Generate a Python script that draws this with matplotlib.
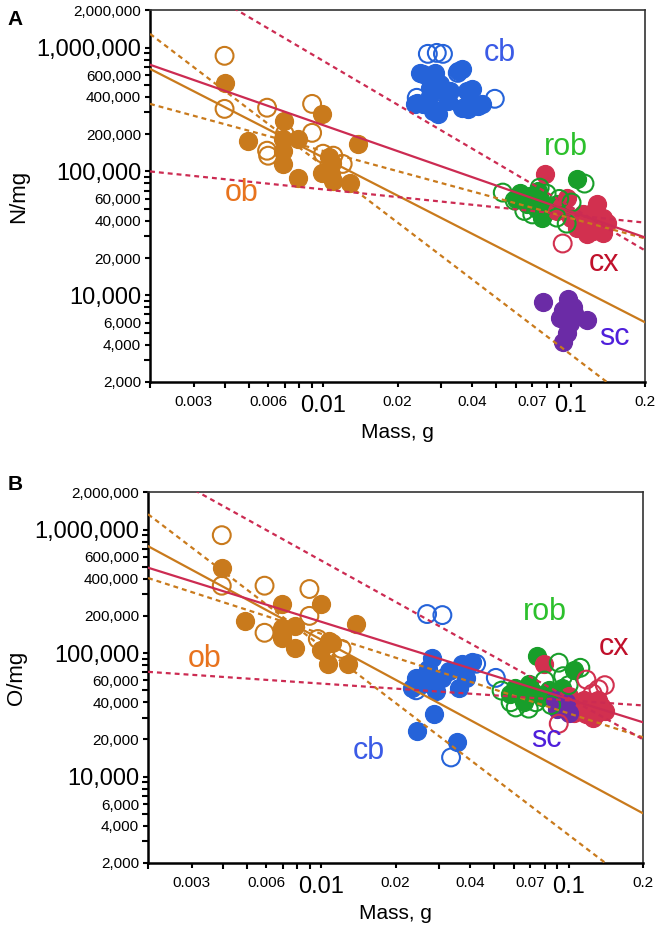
import numpy as np
import matplotlib
matplotlib.use("Agg")
import matplotlib.pyplot as plt
from matplotlib.ticker import FixedLocator, FixedFormatter

plt.rcParams["font.family"] = ["Liberation Sans", "DejaVu Sans"]

# ---------------- data, panel A (N/mg) ----------------
ob_a_fill_x = [0.0040, 0.00499, 0.00697, 0.0069, 0.00793, 0.0069, 0.0069, 0.0079, 0.0099, 0.0099,
               0.0109, 0.011, 0.0129, 0.0138, 0.0108, 0.0106]
ob_a_fill_y = [520000, 177000, 256000, 184000, 184000, 115000, 147000, 89000, 292000, 97000,
               117000, 84000, 80000, 167000, 96000, 130000]
ob_a_open_x = [0.0040, 0.0040, 0.00594, 0.00903, 0.00594, 0.0060, 0.00903, 0.0070, 0.0100, 0.011, 0.012]
ob_a_open_y = [858000, 320000, 327000, 351000, 147000, 134000, 205000, 200000, 139000, 134000, 115000]

cb_a_fill_x = [0.0246, 0.0283, 0.0363, 0.0239, 0.0288, 0.0384, 0.0438, 0.0399, 0.0310, 0.0270,
               0.0253, 0.0350, 0.0253, 0.0278, 0.0291, 0.0319, 0.0381, 0.0392, 0.0422, 0.0363,
               0.0296, 0.0325, 0.0270, 0.0235]
cb_a_fill_y = [625000, 625000, 673000, 358000, 309000, 321000, 352000, 465000, 448000, 474000,
               614000, 649000, 352000, 309000, 292000, 372000, 448000, 372000, 339000, 327000,
               510000, 448000, 408000, 352000]
cb_a_open_x = [0.0265, 0.0288, 0.0305, 0.0494, 0.0239, 0.0350]
cb_a_open_y = [890000, 906000, 890000, 386000, 393000, 625000]

rob_a_fill_x = [0.0622, 0.0684, 0.0736, 0.0665, 0.0729, 0.0800, 0.0879, 0.0764, 0.1057, 0.0703,
                0.060, 0.075, 0.085]
rob_a_fill_y = [67500, 63800, 70000, 55000, 50100, 48300, 55000, 42400, 87600, 58200,
                60000, 60000, 50000]
rob_a_open_x = [0.0532, 0.1138, 0.0594, 0.0800, 0.0964, 0.1009, 0.0879, 0.0750, 0.065, 0.090, 0.070]
rob_a_open_y = [67500, 79800, 58200, 66200, 37900, 56100, 42400, 74000, 48000, 60000, 45000]

cx_a_fill_x = [0.0786, 0.0964, 0.0879, 0.1193, 0.1284, 0.1227, 0.1346, 0.1117, 0.1057, 0.1309,
               0.1161, 0.140, 0.125, 0.110, 0.135, 0.120, 0.092, 0.100]
cx_a_fill_y = [96000, 61500, 48300, 40100, 55000, 33300, 42400, 45700, 35200, 35200,
               31500, 38000, 48000, 37000, 32000, 45000, 53000, 42000]
cx_a_open_x = [0.0929]
cx_a_open_y = [26200]

sc_a_x = [0.0771, 0.0972, 0.0929, 0.1030, 0.1161, 0.0990, 0.0964, 0.0929, 0.0903, 0.1019]
sc_a_y = [8750, 9400, 7550, 7140, 6270, 5930, 4930, 4170, 6500, 7980]

# ---------------- data, panel B (O/mg) ----------------
ob_b_fill_x = [0.00397, 0.00491, 0.00692, 0.00692, 0.00692, 0.00781, 0.00781, 0.0100, 0.0108,
               0.0111, 0.0100, 0.0107, 0.0128, 0.0139, 0.00692]
ob_b_fill_y = [487000, 182000, 249000, 160000, 133000, 166000, 110000, 249000, 126000,
               120000, 105000, 81800, 82000, 173000, 140000]
ob_b_open_x = [0.00397, 0.00397, 0.00591, 0.00591, 0.00897, 0.00897, 0.0097, 0.0121]
ob_b_open_y = [900000, 351000, 351000, 146000, 330000, 200000, 130000, 108000]

cb_b_fill_x = [0.0281, 0.0242, 0.0273, 0.0309, 0.0371, 0.0407, 0.0385, 0.0361, 0.0292, 0.0233,
               0.0256, 0.0244, 0.0286, 0.0354, 0.033, 0.027]
cb_b_fill_y = [92000, 63000, 59800, 63000, 82200, 84000, 63000, 52000, 49700, 52000,
               56000, 23600, 32400, 18900, 72000, 75000]
cb_b_open_x = [0.0268, 0.0309, 0.0508, 0.0423, 0.0242, 0.0335, 0.039]
cb_b_open_y = [207000, 203000, 63000, 82000, 50000, 14300, 78000]

rob_b_fill_x = [0.0743, 0.1047, 0.061, 0.069, 0.078, 0.0938, 0.0647, 0.058, 0.072, 0.083, 0.066, 0.088]
rob_b_fill_y = [95500, 72300, 52000, 56000, 44000, 52000, 44000, 47000, 48000, 50000, 40000, 45000]
rob_b_open_x = [0.0912, 0.1115, 0.0536, 0.0736, 0.0583, 0.0611, 0.069, 0.080, 0.095, 0.100, 0.085]
rob_b_open_y = [83600, 76000, 49700, 40000, 40000, 36300, 35500, 60000, 65000, 55000, 38000]

cx_b_fill_x = [0.0794, 0.126, 0.115, 0.120, 0.130, 0.135, 0.125, 0.118, 0.140, 0.110, 0.100,
               0.095, 0.132, 0.105]
cx_b_fill_y = [82000, 40000, 42000, 35000, 33000, 37000, 30000, 32000, 34000, 38000, 45000,
               40000, 42000, 33000]
cx_b_open_x = [0.118, 0.132, 0.0912, 0.125, 0.140]
cx_b_open_y = [61000, 51000, 26800, 47000, 55000]

sc_b_x = [0.088, 0.092, 0.095, 0.098, 0.090, 0.100]
sc_b_y = [42000, 38000, 36000, 40000, 35000, 33000]

# fitted lines: value at mass 0.002 and at mass 0.2
line_x = [0.002, 0.2]
a_ob_fit = [673000, 6050]
a_ob_hi = [1290000, 1160]
a_ob_lo = [351000, 28800]
a_cx_fit = [727000, 29300]
a_cx_hi = [5200000, 23000]
a_cx_lo = [100000, 38600]

b_ob_fit = [733000, 5040]
b_ob_hi = [1330000, 1170]
b_ob_lo = [405000, 20800]
b_cx_fit = [491000, 27500]
b_cx_hi = [3370000, 20000]
b_cx_lo = [70500, 37700]

# text labels of the groups
group_names = ["ob", "cb", "rob", "cx", "sc"]
a_label_x = [0.00467, 0.0518, 0.0955, 0.137, 0.150]
a_label_y = [67500, 906000, 158000, 18100, 4570]
b_label_x = [0.00339, 0.01556, 0.080, 0.152, 0.081]
b_label_y = [89800, 16000, 215000, 111000, 20000]

x_major = [0.01, 0.1]
x_minor = [0.002, 0.003, 0.004, 0.005, 0.006, 0.007, 0.008, 0.009,
           0.02, 0.03, 0.04, 0.05, 0.06, 0.07, 0.08, 0.09, 0.2]
x_small_labels = {0.003: "0.003", 0.006: "0.006", 0.02: "0.02", 0.04: "0.04", 0.07: "0.07", 0.2: "0.2"}
y_major = [1e4, 1e5, 1e6]
y_major_labels = ["10,000", "100,000", "1,000,000"]
y_small = [2000, 4000, 6000, 20000, 40000, 60000, 200000, 400000, 600000, 2000000]
y_unlabeled = [3000, 5000, 7000, 8000, 9000, 30000, 50000, 70000, 80000, 90000,
               300000, 500000, 700000, 800000, 900000]

# colours
c_ob = "#C97A1C"
c_cb = "#2563D9"
c_rob = "#189E2A"
c_cx = "#D2304F"
c_sc = "#6B2BA6"
c_line_red = "#CC2B52"
label_colors = ["#E8731E", "#3B5BE6", "#2CC02C", "#C0102B", "#4F1FDB"]

MS = 165


def style_axes(ax, ylabel):
    ax.set_xscale("log")
    ax.set_yscale("log")
    ax.set_xlim(0.002, 0.2)
    ax.set_ylim(2000, 2000000)

    # x ticks: big labels for decades, small labels for some others
    xt = x_major + list(x_small_labels.keys())
    xl = ["0.01", "0.1"] + list(x_small_labels.values())
    ax.xaxis.set_major_locator(FixedLocator(xt))
    ax.xaxis.set_major_formatter(FixedFormatter(xl))
    ax.xaxis.set_minor_locator(FixedLocator([v for v in x_minor if v not in x_small_labels]))
    ax.xaxis.set_minor_formatter(FixedFormatter([]))
    for i, t in enumerate(ax.xaxis.get_major_ticks(len(xt))):
        if i < 2:
            t.label1.set_fontsize(17)
            t.tick1line.set_markersize(9)
        else:
            t.label1.set_fontsize(11)
            t.tick1line.set_markersize(6)

    yt = y_major + y_small
    yl = y_major_labels + [f"{int(v):,}" for v in y_small]
    ax.yaxis.set_major_locator(FixedLocator(yt))
    ax.yaxis.set_major_formatter(FixedFormatter(yl))
    ax.yaxis.set_minor_locator(FixedLocator(y_unlabeled))
    ax.yaxis.set_minor_formatter(FixedFormatter([]))
    for i, t in enumerate(ax.yaxis.get_major_ticks(len(yt))):
        if i < 3:
            t.label1.set_fontsize(17)
            t.tick1line.set_markersize(10)
        else:
            t.label1.set_fontsize(11)
            t.tick1line.set_markersize(7)

    ax.tick_params(which="both", direction="out", width=1.5, pad=3)
    ax.tick_params(axis="x", which="both", pad=6)
    ax.tick_params(which="minor", length=4.5)

    for s in ["left", "bottom"]:
        ax.spines[s].set_linewidth(1.8)
        ax.spines[s].set_color("black")
    for s in ["top", "right"]:
        ax.spines[s].set_linewidth(1.2)
        ax.spines[s].set_color("#333333")

    ax.set_xlabel("Mass, g", fontsize=15, labelpad=4)
    ax.set_ylabel(ylabel, fontsize=16, labelpad=5)


def draw_panel(ax, groups, lines, lab_x, lab_y):
    for fx, fy, ox, oy, col in groups:
        ax.scatter(fx, fy, s=MS, color=col, edgecolors=col, linewidths=1.0, zorder=2)
        if ox:
            ax.scatter(ox, oy, s=MS, facecolors="none", edgecolors=col, linewidths=1.5, zorder=2.5)
    for vals, col, ls in lines:
        ax.plot(line_x, vals, color=col, lw=1.6, linestyle=ls, zorder=3)
    for name, x, y, col in zip(group_names, lab_x, lab_y, label_colors):
        ax.text(x, y, name, color=col, fontsize=22, ha="center", va="center", zorder=4)


fig = plt.figure(figsize=(6.61, 9.36), dpi=100)
ax1 = fig.add_axes([0.227, 0.592, 0.749, 0.397])
ax2 = fig.add_axes([0.224, 0.078, 0.749, 0.396])

dash = (0, (2.2, 1.8))

draw_panel(ax1,
           [(ob_a_fill_x, ob_a_fill_y, ob_a_open_x, ob_a_open_y, c_ob),
            (cb_a_fill_x, cb_a_fill_y, cb_a_open_x, cb_a_open_y, c_cb),
            (rob_a_fill_x, rob_a_fill_y, rob_a_open_x, rob_a_open_y, c_rob),
            (cx_a_fill_x, cx_a_fill_y, cx_a_open_x, cx_a_open_y, c_cx),
            (sc_a_x, sc_a_y, [], [], c_sc)],
           [(a_ob_fit, c_ob, "-"), (a_ob_hi, c_ob, dash), (a_ob_lo, c_ob, dash),
            (a_cx_fit, c_line_red, "-"), (a_cx_hi, c_line_red, dash), (a_cx_lo, c_line_red, dash)],
           a_label_x, a_label_y)

draw_panel(ax2,
           [(ob_b_fill_x, ob_b_fill_y, ob_b_open_x, ob_b_open_y, c_ob),
            (cb_b_fill_x, cb_b_fill_y, cb_b_open_x, cb_b_open_y, c_cb),
            (rob_b_fill_x, rob_b_fill_y, rob_b_open_x, rob_b_open_y, c_rob),
            (cx_b_fill_x, cx_b_fill_y, cx_b_open_x, cx_b_open_y, c_cx),
            (sc_b_x, sc_b_y, [], [], c_sc)],
           [(b_ob_fit, c_ob, "-"), (b_ob_hi, c_ob, dash), (b_ob_lo, c_ob, dash),
            (b_cx_fit, c_line_red, "-"), (b_cx_hi, c_line_red, dash), (b_cx_lo, c_line_red, dash)],
           b_label_x, b_label_y)

style_axes(ax1, "N/mg")
style_axes(ax2, "O/mg")

fig.text(0.012, 0.979, "A", fontsize=15, fontweight="bold", va="center")
fig.text(0.012, 0.482, "B", fontsize=15, fontweight="bold", va="center")

fig.savefig("out.png", dpi=100)
